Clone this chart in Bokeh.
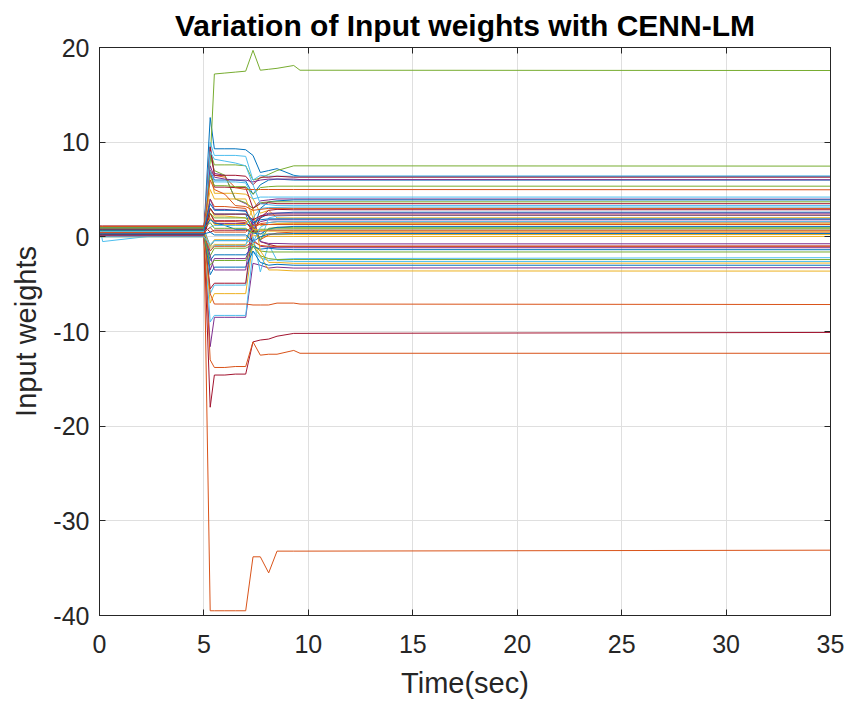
from bokeh.plotting import figure
from bokeh.models import LinearAxis, FixedTicker, Range1d, CustomJSTickFormatter
from bokeh.embed import file_html
from bokeh.resources import INLINE

t_knots = [0, 0.15, 5.0, 5.3, 5.5, 6.0, 6.5, 7.0, 7.35, 7.7, 8.1, 8.5, 9.3, 9.6, 35]

# Input weights, grouped by their line colour (MATLAB colour order)
w_blue = [
    [0.60, 0.60, 0.60, 12.6, 9.3, 9.3, 9.3, 9.2, 8.6, 6.8, 7.0, 7.2, 6.5, 6.4, 6.4],
    [0.40, 0.40, 0.40, 7.0, 6.0, 6.0, 6.0, 5.9, 4.5, 5.5, 6.0, 6.1, 6.0, 6.0, 6.0],
    [0.20, 0.20, 0.20, 3.0, 2.4, 2.4, 2.4, 2.4, 0.5, 3.0, 3.7, 3.8, 3.9, 3.9, 3.9],
    [0.80, 0.80, 0.80, -1.0, -0.4, -0.4, -0.4, -0.4, 1.5, 2.0, 2.4, 2.5, 2.6, 2.6, 2.6],
    [0.10, 0.10, 0.10, -2.5, -1.9, -1.9, -1.9, -1.9, -1.0, -1.3, -1.2, -1.3, -1.35, -1.35, -1.36],
    [0.50, 0.50, 0.50, -4.0, -3.2, -3.2, -3.2, -3.2, -1.5, -2.7, -3.0, -2.9, -3.0, -3.0, -3.0],
    [0.95, 0.95, 0.95, 1.8, 1.5, 1.2, 0.8, 0.8, 0.4, 0.3, 0.8, 1.0, 1.1, 1.1, 1.1],
    [0.30, 0.30, 0.30, 0.5, 0.2, 0.2, 0.2, 0.2, -0.5, 0.0, 0.3, 0.3, 0.35, 0.35, 0.35],
    [0.70, 0.70, 0.70, 3.5, 2.8, 2.8, 2.8, 2.7, 1.5, 1.8, 1.9, 1.9, 1.9, 1.9, 1.9],
]
w_orange = [
    [0.30, 0.30, 0.30, -39.5, -39.5, -39.5, -39.5, -39.5, -33.8, -33.8, -35.5, -33.2, -33.2, -33.2, -33.1],
    [0.20, 0.20, 0.20, -13.0, -13.8, -13.8, -13.7, -13.7, -11.1, -12.5, -12.4, -12.4, -12.0, -12.3, -12.3],
    [0.50, 0.50, 0.50, -6.0, -7.1, -7.1, -7.1, -7.1, -7.2, -7.2, -7.2, -7.0, -7.0, -7.1, -7.15],
    [0.70, 0.70, 0.70, 7.0, 6.5, 6.3, 5.2, 5.0, 5.0, 5.0, 5.0, 5.0, 5.0, 5.0, 4.97],
    [0.15, 0.15, 0.15, 2.5, 1.6, 1.6, 1.6, 1.5, 0.9, 1.4, 1.5, 1.6, 1.55, 1.55, 1.56],
    [0.90, 0.90, 0.90, 4.0, 3.2, 3.2, 3.1, 3.0, 1.0, -0.3, 0.2, 0.4, 0.5, 0.5, 0.5],
    [0.05, 0.05, 0.05, -1.5, -1.0, -1.0, -1.0, -1.0, -0.5, -0.9, -1.0, -1.0, -1.0, -1.0, -0.98],
    [1.10, 1.10, 1.10, 6.0, 5.0, 4.5, 3.3, 3.2, 2.8, 2.9, 3.0, 3.0, 3.0, 3.0, 3.0],
    [0.45, 0.45, 0.45, 1.0, 0.5, 0.5, 0.5, 0.5, 1.2, 1.3, 1.3, 1.3, 1.3, 1.3, 1.3],
]
w_yellow = [
    [0.40, 0.40, 0.40, 7.0, 4.6, 4.6, 4.6, 4.5, 4.0, 2.5, 2.8, 2.0, 2.0, 2.0, 2.02],
    [0.25, 0.25, 0.25, -7.0, -6.0, -6.0, -6.0, -6.0, -0.5, -2.0, -3.5, -3.5, -3.6, -3.6, -3.62],
    [0.60, 0.60, 0.60, 3.0, 2.2, 2.2, 2.1, 2.0, 1.0, 0.3, 0.3, 0.25, 0.25, 0.25, 0.25],
    [0.85, 0.85, 0.85, 5.0, 4.0, 4.0, 4.0, 4.0, 2.0, 1.2, 1.3, 1.4, 1.4, 1.4, 1.38],
    [0.00, 0.00, 0.00, -1.2, -0.8, -0.8, -0.8, -0.8, 0.2, 0.0, 0.05, 0.05, 0.04, 0.04, 0.04],
    [1.00, 1.00, 1.00, 2.0, 1.3, 1.3, 1.3, 1.3, 3.0, -1.5, -2.7, -2.7, -2.8, -2.8, -2.77],
    [0.55, 0.55, 0.55, -1.0, -0.3, -0.3, -0.3, -0.3, 0.8, 0.7, 0.6, 0.6, 0.6, 0.6, 0.6],
]
w_purple = [
    [0.30, 0.30, 0.30, -11.6, -8.5, -8.5, -8.5, -8.5, -2.8, -3.0, -3.3, -3.2, -3.3, -3.3, -3.26],
    [0.55, 0.55, 0.55, 9.5, 6.7, 6.5, 4.0, 3.5, 3.0, 3.8, 3.9, 4.0, 4.0, 4.0, 3.98],
    [0.80, 0.80, 0.80, -3.5, -2.3, -2.3, -2.3, -2.3, -0.3, -1.0, -1.1, -1.15, -1.15, -1.15, -1.15],
    [0.20, 0.20, 0.20, 2.0, 1.4, 1.4, 1.4, 1.4, 1.0, 1.6, 1.8, 1.8, 1.8, 1.8, 1.8],
    [0.95, 0.95, 0.95, 7.5, 6.3, 6.1, 6.0, 6.0, 5.8, 6.0, 6.1, 6.1, 6.1, 6.05, 6.03],
    [0.45, 0.45, 0.45, -2.0, -3.5, -3.5, -3.5, -3.5, 2.0, -0.5, -0.7, -0.7, -0.75, -0.75, -0.73],
    [0.10, 0.10, 0.10, 4.0, 2.9, 2.9, 2.8, 2.8, 1.2, 2.2, 2.5, 2.5, 2.5, 2.5, 2.5],
]
w_green = [
    [0.50, 0.50, 0.50, 8.0, 17.2, 17.3, 17.4, 17.5, 19.7, 17.6, 17.7, 17.8, 18.1, 17.6, 17.57],
    [0.35, 0.35, 0.35, 9.0, 7.6, 7.6, 7.6, 7.5, 6.0, 6.2, 6.6, 7.0, 7.5, 7.5, 7.47],
    [0.75, 0.75, 0.75, 8.5, 7.0, 6.5, 4.0, 3.6, 3.0, 3.6, 3.7, 3.7, 3.7, 3.7, 3.7],
    [0.10, 0.10, 0.10, -2.0, -1.2, -1.2, -1.2, -1.2, -0.8, -1.5, -1.6, -1.6, -1.6, -1.6, -1.6],
    [0.65, 0.65, 0.65, 6.5, 5.4, 5.4, 5.3, 5.3, 4.5, 5.2, 5.3, 5.35, 5.35, 5.35, 5.35],
    [1.05, 1.05, 1.05, 2.5, 2.0, 2.0, 2.0, 2.0, 1.0, -0.3, 0.9, 1.0, 0.96, 0.96, 0.96],
    [0.25, 0.25, 0.25, -3.0, -2.5, -2.5, -2.5, -2.5, -1.0, -2.0, -2.3, -2.4, -2.4, -2.4, -2.4],
    [0.95, 0.95, 0.95, 1.5, 0.9, 0.9, 0.9, 0.9, 0.4, 0.8, 0.8, 0.85, 0.85, 0.85, 0.85],
]
w_cyan = [
    [1.30, -0.50, 0.70, -9.0, -8.3, -8.3, -8.3, -8.3, -1.5, -2.2, -2.5, -2.4, -2.3, -2.3, -2.2],
    [0.45, 0.45, 0.45, -6.0, -5.1, -5.1, -5.1, -5.1, 0.0, -3.7, -0.8, -2.5, -2.6, -2.6, -2.6],
    [0.70, 0.70, 0.70, 10.0, 8.6, 8.6, 8.6, 8.5, 6.0, 6.5, 6.4, 6.4, 6.4, 6.4, 6.41],
    [0.15, 0.15, 0.15, 7.0, 5.8, 5.8, 5.8, 5.7, 4.0, 4.2, 4.2, 4.2, 4.2, 4.2, 4.2],
    [0.90, 0.90, 0.90, -1.5, -0.9, -0.9, -0.9, -0.9, 1.5, -0.5, 2.0, 2.2, 2.26, 2.26, 2.26],
    [0.30, 0.30, 0.30, 9.0, 8.2, 8.0, 7.8, 7.5, 5.5, 3.5, 3.4, 3.3, 3.3, 3.3, 3.3],
    [0.55, 0.55, 0.55, 1.0, 1.2, 1.2, 1.2, 1.2, 2.0, 3.0, 3.1, 3.1, 3.14, 3.14, 3.14],
    [0.00, 0.00, 0.00, -0.8, -0.4, -0.4, -0.4, -0.4, -0.6, 1.0, 1.5, 1.6, 1.6, 1.6, 1.6],
]
w_darkred = [
    [0.20, 0.20, 0.20, -18.0, -14.6, -14.6, -14.5, -14.5, -11.1, -10.9, -10.8, -10.5, -10.2, -10.2, -10.1],
    [0.60, 0.60, 0.60, -5.5, -4.9, -4.9, -4.9, -4.9, 1.0, -0.5, -0.8, -1.0, -1.0, -1.0, -0.98],
    [0.35, 0.35, 0.35, 7.0, 5.25, 5.25, 5.2, 5.2, 3.0, 3.5, 3.6, 3.5, 3.5, 3.5, 3.5],
    [0.80, 0.80, 0.80, 9.5, 6.5, 6.5, 6.5, 6.4, 5.5, 6.3, 6.3, 6.4, 6.3, 6.3, 6.3],
    [0.05, 0.05, 0.05, 2.5, 1.7, 1.7, 1.7, 1.7, 0.5, 2.0, 2.8, 2.9, 2.86, 2.86, 2.86],
    [1.15, 1.15, 1.15, 0.5, 0.7, 0.7, 0.7, 0.7, 0.5, 0.6, 0.7, 0.7, 0.7, 0.7, 0.7],
    [0.25, 0.25, 0.25, 3.0, 2.4, 2.4, 2.4, 2.4, 1.8, 2.2, 2.3, 2.3, 2.3, 2.3, 2.3],
]

x_ticks = [0, 5, 10, 15, 20, 25, 30, 35]
y_ticks = [-40, -30, -20, -10, 0, 10, 20]
x_tick_labels = ["0", "5", "10", "15", "20", "25", "30", "35"]
y_tick_labels = ["-40", "-30", "-20", "-10", "0", "10", "20"]

title_text = "Variation of Input weights with CENN-LM"
x_label = "Time(sec)"
y_label = "Input weights"

groups = [
    (w_blue, "#0072BD"),
    (w_orange, "#D95319"),
    (w_yellow, "#EDB120"),
    (w_purple, "#7E2F8E"),
    (w_green, "#77AC30"),
    (w_cyan, "#4DBEEE"),
    (w_darkred, "#A2142F"),
]

FONT = "Liberation Sans"
AX = "#262626"

p = figure(width=848, height=704, output_backend="svg", toolbar_location=None,
           x_range=Range1d(0, 35), y_range=Range1d(-40, 20),
           min_border_left=99, min_border_right=18, min_border_top=47, min_border_bottom=89)

p.title.text = title_text
p.title.text_font = FONT
p.title.text_font_size = "30px"
p.title.text_font_style = "bold"
p.title.align = "center"
p.title.text_color = "#000000"
p.title.standoff = 12

# draw lines interleaved across colours, like MATLAB's colour order
max_len = max(len(g[0]) for g in groups)
for k in range(max_len):
    for rows, col in groups:
        if k < len(rows):
            p.line(t_knots, rows[k], line_color=col, line_width=1)

p.outline_line_color = AX
p.outline_line_width = 1

for ax in [p.xaxis[0], p.yaxis[0]]:
    ax.major_tick_in = 6
    ax.major_tick_out = 0
    ax.minor_tick_line_color = None
    ax.axis_line_color = AX
    ax.major_tick_line_color = AX
    ax.major_label_text_color = AX
    ax.major_label_text_font = FONT
    ax.major_label_text_font_size = "25px"
    ax.axis_label_text_font = FONT
    ax.axis_label_text_font_size = "29px"
    ax.axis_label_text_font_style = "normal"
    ax.axis_label_text_color = AX

p.xaxis[0].ticker = FixedTicker(ticks=x_ticks)
p.yaxis[0].ticker = FixedTicker(ticks=y_ticks)
p.xaxis[0].major_label_overrides = dict(zip(x_ticks, x_tick_labels))
p.yaxis[0].major_label_overrides = dict(zip(y_ticks, y_tick_labels))
p.xaxis[0].axis_label = x_label
p.yaxis[0].axis_label = y_label
p.xaxis[0].major_label_standoff = 19
p.yaxis[0].major_label_standoff = 10
p.xaxis[0].axis_label_standoff = 11
p.yaxis[0].axis_label_standoff = 8

top = LinearAxis(ticker=FixedTicker(ticks=x_ticks), formatter=CustomJSTickFormatter(code="return ''"),
                 major_tick_in=6, major_tick_out=0, minor_tick_line_color=None,
                 axis_line_color=AX, major_tick_line_color=AX, major_label_standoff=0)
right = LinearAxis(ticker=FixedTicker(ticks=y_ticks), formatter=CustomJSTickFormatter(code="return ''"),
                   major_tick_in=6, major_tick_out=0, minor_tick_line_color=None,
                   axis_line_color=AX, major_tick_line_color=AX, major_label_standoff=0)
p.add_layout(top, "above")
p.add_layout(right, "right")

p.xgrid.ticker = FixedTicker(ticks=x_ticks)
p.ygrid.ticker = FixedTicker(ticks=y_ticks)
p.grid.grid_line_color = "#dfdfdf"
p.grid.grid_line_width = 1

open("out.html", "w").write(file_html(p, INLINE))
